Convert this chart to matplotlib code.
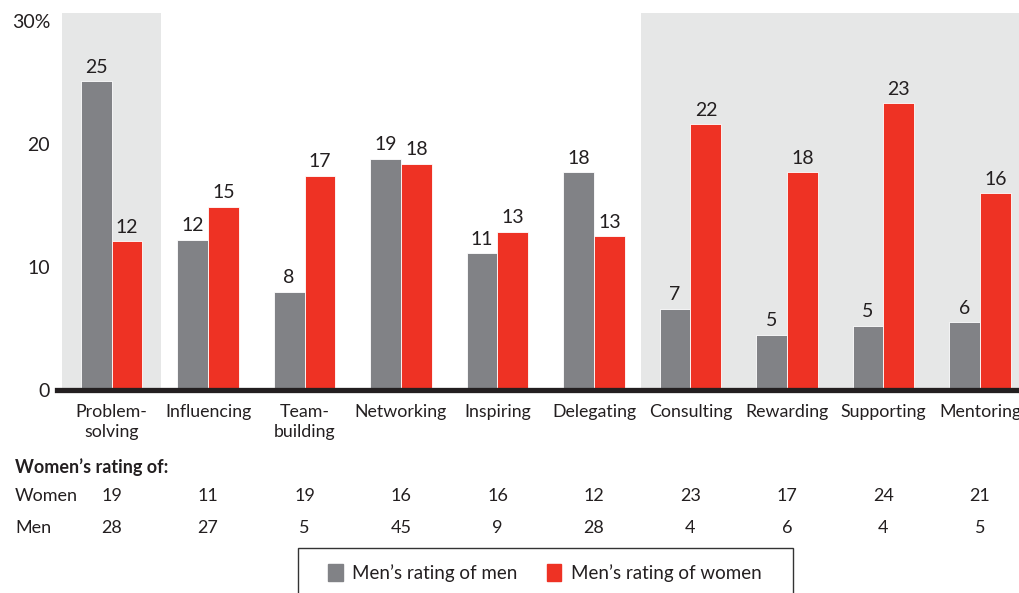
import matplotlib
matplotlib.use("Agg")
import matplotlib.pyplot as plt
from matplotlib.patches import Rectangle
from matplotlib.transforms import blended_transform_factory
import numpy as np

plt.rcParams['font.family'] = ['Lato', 'DejaVu Sans']

categories = ["Problem-\nsolving", "Influencing", "Team-\nbuilding", "Networking", "Inspiring",
              "Delegating", "Consulting", "Rewarding", "Supporting", "Mentoring"]
men_of_men = [25.1, 12.2, 8.0, 18.8, 11.1, 17.7, 6.6, 4.5, 5.2, 5.5]
men_of_women = [12.1, 14.9, 17.4, 18.4, 12.85, 12.5, 21.6, 17.7, 23.3, 16.0]
men_of_men_labels = ["25", "12", "8", "19", "11", "18", "7", "5", "5", "6"]
men_of_women_labels = ["12", "15", "17", "18", "13", "13", "22", "18", "23", "16"]
women_rating_women = ["19", "11", "19", "16", "16", "12", "23", "17", "24", "21"]
women_rating_men = ["28", "27", "5", "45", "9", "28", "4", "6", "4", "5"]
yticks = [0, 10, 20, 30]
ytick_labels = ["0", "10", "20", "30%"]
legend_labels = ["Men\u2019s rating of men", "Men\u2019s rating of women"]

GREY = "#818286"
RED = "#EE3224"
SHADE = "#E6E7E7"
TXT = "#231F20"

fig = plt.figure(figsize=(10.2, 5.93), dpi=100)
ax = fig.add_axes([57/1020, (593-390)/593, 963/1020, (390-13)/593])

x = np.arange(len(categories))
w = 0.32
ax.set_xlim(-0.565, 9.415)
ax.set_ylim(0, 30.65)

ax.axvspan(-0.513, 0.513, color=SHADE, zorder=0, lw=0)
ax.axvspan(5.487, 9.415, color=SHADE, zorder=0, lw=0)

b1 = ax.bar(x - w/2, men_of_men, w, color=GREY, edgecolor="white", linewidth=0.6, zorder=2)
b2 = ax.bar(x + w/2, men_of_women, w, color=RED, edgecolor="white", linewidth=0.6, zorder=2)

for rect, lab in zip(b1, men_of_men_labels):
    ax.annotate(lab, (rect.get_x() + rect.get_width()/2, rect.get_height()),
                xytext=(0, 4), textcoords="offset points", ha="center", va="bottom",
                fontsize=14, color=TXT)
for rect, lab in zip(b2, men_of_women_labels):
    ax.annotate(lab, (rect.get_x() + rect.get_width()/2, rect.get_height()),
                xytext=(0, 4), textcoords="offset points", ha="center", va="bottom",
                fontsize=14, color=TXT)

ax.axhline(0, color=TXT, lw=3.8, zorder=3, xmin=0, xmax=1, clip_on=False)

for s in ax.spines.values():
    s.set_visible(False)
ax.set_xticks(x)
ax.set_xticklabels(categories, fontsize=12.8, color=TXT, linespacing=1.3, va="top")
ax.set_yticks(yticks)
ax.set_yticklabels(ytick_labels, fontsize=14, color=TXT)
ax.tick_params(axis="both", length=0)
ax.tick_params(axis="x", pad=10)
ax.tick_params(axis="y", pad=5)

trans = blended_transform_factory(ax.transData, fig.transFigure)
fig.text(15/1020, 1 - 467/593, "Women\u2019s rating of:", fontsize=13, fontweight="bold",
         color=TXT, va="center", ha="left")
fig.text(15/1020, 1 - 496/593, "Women", fontsize=13, color=TXT, va="center", ha="left")
fig.text(15/1020, 1 - 528/593, "Men", fontsize=13, color=TXT, va="center", ha="left")
for xi, v in zip(x, women_rating_women):
    ax.text(xi, 1 - 496/593, v, transform=trans, fontsize=13, color=TXT, ha="center", va="center")
for xi, v in zip(x, women_rating_men):
    ax.text(xi, 1 - 528/593, v, transform=trans, fontsize=13, color=TXT, ha="center", va="center")

fig.patches.append(Rectangle((298/1020, -0.05), (793-298)/1020, 0.05 + (593-548)/593,
                             transform=fig.transFigure, fill=False, edgecolor="#333333",
                             lw=1.0))
handles = [Rectangle((0, 0), 1, 1, color=GREY), Rectangle((0, 0), 1, 1, color=RED)]
fig.legend(handles, legend_labels, loc="center", bbox_to_anchor=(545/1020, 1 - 573/593),
           ncol=2, frameon=False, fontsize=13.5, handlelength=0.75, handleheight=1.0,
           handletextpad=0.5, columnspacing=1.6, labelcolor=TXT)

fig.savefig("out.png", dpi=100)
